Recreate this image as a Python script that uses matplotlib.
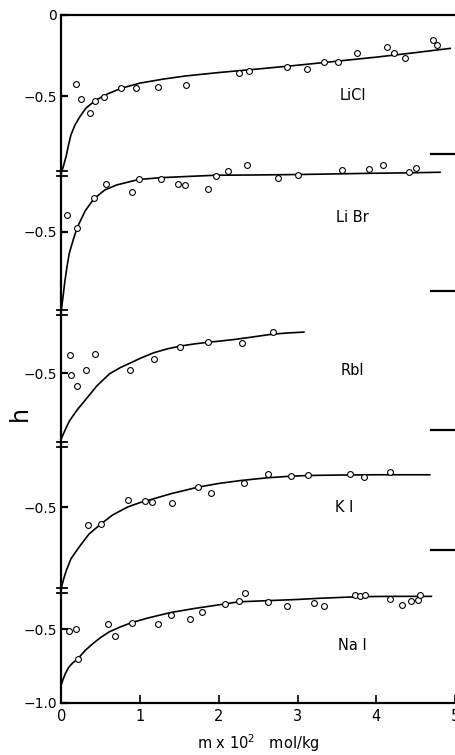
import matplotlib
matplotlib.use('Agg')
import matplotlib.pyplot as plt
from matplotlib.lines import Line2D

# ---------------- data (m x 10^2 mol/kg, h) ----------------
salts = ['LiCl', 'Li Br', 'RbI', 'K I', 'Na I']

licl_m = [0.18, 0.25, 0.36, 0.43, 0.54, 0.76, 0.95, 1.23, 1.58, 2.25, 2.38, 2.86, 3.12,
          3.33, 3.51, 3.75, 4.13, 4.22, 4.36, 4.72, 4.77]
licl_h = [-0.426, -0.519, -0.603, -0.529, -0.504, -0.449, -0.449, -0.446, -0.434, -0.356,
          -0.344, -0.323, -0.335, -0.292, -0.288, -0.237, -0.198, -0.237, -0.267, -0.156, -0.183]
licl_fit_m = [0.0, 0.02, 0.04, 0.06, 0.09, 0.12, 0.17, 0.23, 0.31, 0.43, 0.58, 0.76, 1.0,
              1.3, 1.58, 2.0, 2.5, 3.0, 3.5, 4.0, 4.5, 4.94]
licl_fit_h = [-0.97, -0.94, -0.905, -0.87, -0.80, -0.74, -0.68, -0.63, -0.575, -0.527, -0.488,
              -0.452, -0.42, -0.395, -0.376, -0.355, -0.333, -0.31, -0.285, -0.26, -0.232, -0.206]

libr_m = [0.07, 0.20, 0.41, 0.57, 0.89, 0.98, 1.27, 1.48, 1.57, 1.86, 1.96, 2.12, 2.36, 2.75,
          3.01, 3.56, 3.91, 4.08, 4.41, 4.50]
libr_h = [-0.387, -0.473, -0.275, -0.178, -0.235, -0.145, -0.145, -0.18, -0.185, -0.211,
          -0.125, -0.093, -0.053, -0.138, -0.122, -0.087, -0.078, -0.055, -0.102, -0.075]
libr_fit_m = [0.0, 0.02, 0.04, 0.07, 0.10, 0.15, 0.20, 0.30, 0.41, 0.55, 0.70, 0.98, 1.27,
              1.6, 1.96, 2.5, 3.01, 3.5, 3.92, 4.4, 4.81]
libr_fit_h = [-1.01, -0.93, -0.84, -0.73, -0.64, -0.55, -0.47, -0.36, -0.28, -0.22, -0.187,
              -0.15, -0.138, -0.13, -0.122, -0.12, -0.117, -0.113, -0.109, -0.106, -0.102]

rbi_m = [0.11, 0.12, 0.20, 0.31, 0.42, 0.87, 1.17, 1.51, 1.86, 2.29, 2.69]
rbi_h = [-0.38, -0.511, -0.587, -0.482, -0.373, -0.478, -0.409, -0.327, -0.293, -0.302, -0.229]
rbi_fit_m = [0.0, 0.05, 0.10, 0.20, 0.31, 0.45, 0.61, 0.75, 0.87, 1.0, 1.17, 1.35, 1.51,
             1.7, 1.86, 2.01, 2.2, 2.45, 2.69, 2.9, 3.08]
rbi_fit_h = [-0.935, -0.875, -0.82, -0.745, -0.675, -0.585, -0.505, -0.463, -0.434, -0.402,
             -0.365, -0.338, -0.32, -0.305, -0.295, -0.287, -0.276, -0.258, -0.24, -0.232, -0.227]

ki_m = [0.34, 0.50, 0.84, 1.06, 1.15, 1.40, 1.74, 1.90, 2.32, 2.62, 2.91, 3.13, 3.66, 3.84, 4.18]
ki_h = [-0.618, -0.613, -0.451, -0.458, -0.469, -0.471, -0.365, -0.407, -0.338, -0.28, -0.293,
        -0.289, -0.282, -0.302, -0.269]
ki_fit_m = [0.0, 0.03, 0.06, 0.12, 0.23, 0.35, 0.50, 0.65, 0.84, 1.0, 1.15, 1.4, 1.74, 2.01,
            2.3, 2.62, 2.9, 3.13, 3.5, 4.0, 4.68]
ki_fit_h = [-1.033, -0.975, -0.925, -0.845, -0.762, -0.68, -0.613, -0.553, -0.5, -0.47, -0.448,
            -0.41, -0.367, -0.342, -0.322, -0.305, -0.295, -0.29, -0.287, -0.285, -0.285]

nai_m = [0.10, 0.19, 0.21, 0.59, 0.68, 0.89, 1.23, 1.39, 1.63, 1.78, 2.08, 2.25, 2.33, 2.62,
         2.87, 3.21, 3.34, 3.73, 3.79, 3.86, 4.17, 4.33, 4.44, 4.53, 4.56]
nai_h = [-0.512, -0.498, -0.70, -0.466, -0.548, -0.461, -0.468, -0.402, -0.434, -0.386, -0.334,
         -0.313, -0.256, -0.317, -0.342, -0.327, -0.347, -0.267, -0.274, -0.267, -0.297, -0.338,
         -0.31, -0.303, -0.269]
nai_fit_m = [0.0, 0.02, 0.05, 0.09, 0.14, 0.21, 0.30, 0.40, 0.50, 0.61, 0.75, 0.89, 1.1,
             1.39, 1.7, 2.08, 2.25, 2.62, 3.0, 3.28, 3.79, 4.2, 4.70]
nai_fit_h = [-0.872, -0.84, -0.80, -0.76, -0.73, -0.70, -0.645, -0.598, -0.556, -0.518,
             -0.485, -0.457, -0.425, -0.388, -0.36, -0.33, -0.316, -0.308, -0.3, -0.292, -0.281,
             -0.279, -0.279]

x_ticks = [0, 1, 2, 3, 4, 5]
x_ticklabels = ['0', '1', '2', '3', '4', '5']

points_m = [licl_m, libr_m, rbi_m, ki_m, nai_m]
points_h = [licl_h, libr_h, rbi_h, ki_h, nai_h]
fits_m = [licl_fit_m, libr_fit_m, rbi_fit_m, ki_fit_m, nai_fit_m]
fits_h = [licl_fit_h, libr_fit_h, rbi_fit_h, ki_fit_h, nai_fit_h]

# ---------------- layout ----------------
W, H = 455, 755
fig = plt.figure(figsize=(W / 100, H / 100), dpi=100)
plt.rcParams['font.family'] = ['DejaVu Sans']

x_left, x_right = 61.5, 455.0
# (top px, bottom px, ylim bottom, ylim top)
panels = [
    (15, 173, -0.975, 0.0),
    (173, 312, -1.033, -0.107),
    (312, 444, -0.973, -0.093),
    (444, 590, -1.053, -0.080),
    (590, 703, -1.0, -0.236),
]
label_pos = [(353, 95), (352, 218), (352, 370), (344, 507), (352, 646)]

for i, (t, b, y0, y1) in enumerate(panels):
    ax = fig.add_axes([x_left / W, 1 - b / H, (x_right - x_left) / W, (b - t) / H])
    ax.set_xlim(0, 5)
    ax.set_ylim(y0, y1)
    ax.patch.set_alpha(0)
    for s in ['top', 'bottom', 'right', 'left']:
        ax.spines[s].set_visible(False)
    ax.spines['left'].set_visible(True)
    ax.spines['left'].set_linewidth(1.6)
    if i == 0:
        ax.spines['top'].set_visible(True)
        ax.spines['top'].set_linewidth(1.6)
        ax.set_yticks([0.0, -0.5])
        ax.set_yticklabels(['0', '\u22120.5'])
    elif i == 4:
        ax.spines['bottom'].set_visible(True)
        ax.spines['bottom'].set_linewidth(1.6)
        ax.set_yticks([-0.5, -1.0])
        ax.set_yticklabels(['\u22120.5', '\u22121.0'])
    else:
        ax.set_yticks([-0.5])
        ax.set_yticklabels(['\u22120.5'])
    ax.tick_params(axis='y', direction='in', length=5, width=1.6, labelsize=10, pad=3)
    if i == 4:
        ax.set_xticks(x_ticks)
        ax.set_xticklabels(x_ticklabels)
        ax.tick_params(axis='x', direction='in', length=6, width=1.2, labelsize=10.5, pad=4)
        ax.set_xlabel('m x 10$^2$   mol/kg', fontsize=10.5, labelpad=6)
    else:
        ax.set_xticks([])

    ax.plot(fits_m[i], fits_h[i], color='black', lw=1.2, clip_on=False, zorder=3)
    ax.plot(points_m[i], points_h[i], linestyle='none', marker='o', ms=4.2,
            mfc='white', mec='black', mew=0.8, clip_on=False, zorder=4)
    lx, ly = label_pos[i]
    fig.text(lx / W, 1 - ly / H, salts[i], fontsize=10.5, ha='center', va='center')

# break marks on the left axis
for yb in [173, 312, 444, 590]:
    for dy in (-2.5, 2.5):
        fig.add_artist(Line2D([57 / W, 67 / W], [1 - (yb + dy) / H] * 2,
                              color='black', lw=1.3))

# partial marks at right edge (neighbouring frame)
for yr in [154, 291, 430, 550]:
    fig.add_artist(Line2D([431 / W, 455 / W], [1 - yr / H] * 2, color='black', lw=1.6))

fig.text(20 / W, 1 - 413 / H, 'h', fontsize=17, rotation=90, ha='center', va='center')

fig.savefig('out.png', dpi=100)
